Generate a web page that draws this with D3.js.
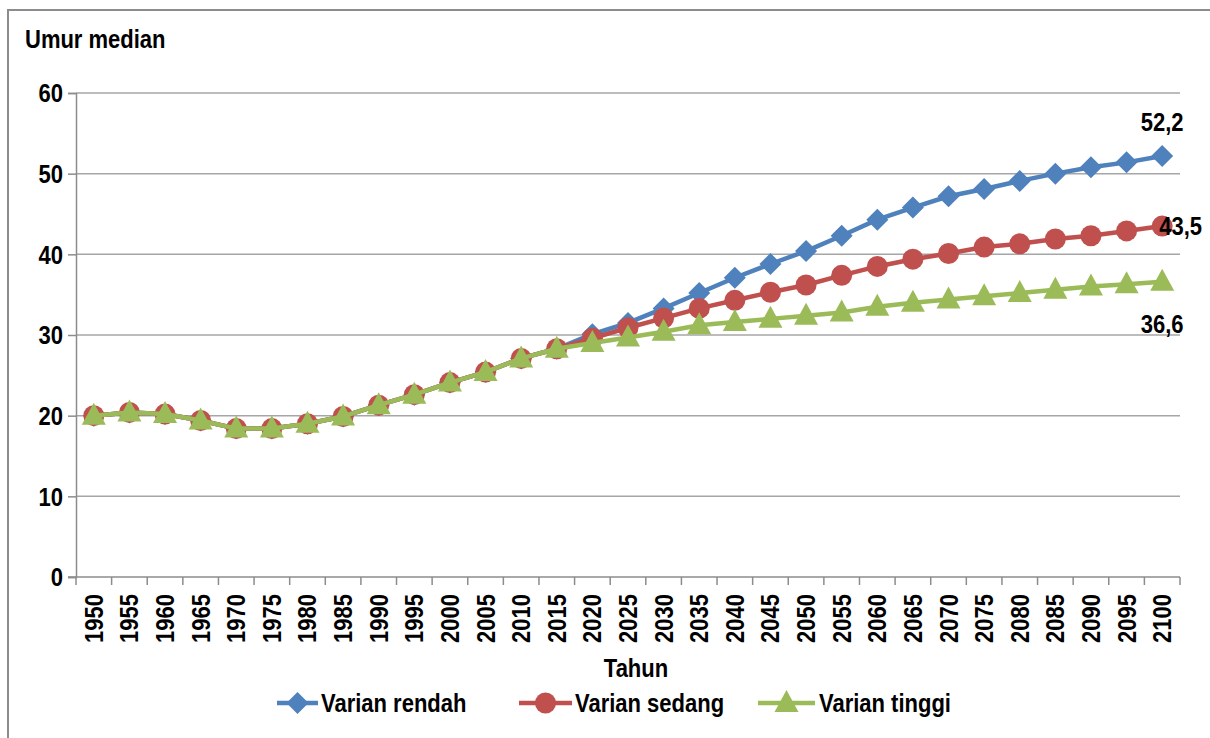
<!DOCTYPE html>
<html>
<head>
<meta charset="utf-8">
<script src="https://cdn.jsdelivr.net/npm/d3@7"></script>
<style>
  html, body { margin: 0; padding: 0; background: #fff; }
  svg { display: block; }
  text { font-family: "Liberation Sans", Arial, sans-serif; font-weight: bold; fill: #000; font-size: 25px; }
</style>
</head>
<body>
<svg id="chart" width="1210" height="738"></svg>
<script>
const years = ["1950","1955","1960","1965","1970","1975","1980","1985","1990","1995","2000","2005","2010","2015","2020","2025","2030","2035","2040","2045","2050","2055","2060","2065","2070","2075","2080","2085","2090","2095","2100"];
const varianRendah = [20.0,20.4,20.2,19.4,18.4,18.4,19.0,19.9,21.3,22.6,24.1,25.4,27.1,28.3,30.1,31.5,33.3,35.2,37.1,38.8,40.4,42.3,44.3,45.8,47.2,48.1,49.1,50.0,50.8,51.4,52.2];
const varianSedang = [20.0,20.4,20.2,19.4,18.4,18.4,19.0,19.9,21.3,22.6,24.1,25.4,27.1,28.3,29.6,30.9,32.1,33.3,34.3,35.3,36.2,37.4,38.5,39.4,40.1,40.9,41.3,41.9,42.3,42.9,43.5];
const varianTinggi = [20.0,20.4,20.2,19.4,18.4,18.4,19.0,19.9,21.3,22.6,24.1,25.4,27.1,28.3,29.0,29.7,30.4,31.2,31.6,32.0,32.4,32.8,33.5,34.0,34.4,34.8,35.2,35.6,36.0,36.3,36.6];
const yTicks = [0,10,20,30,40,50,60];
const seriesNames = ["Varian rendah","Varian sedang","Varian tinggi"];
const endLabels = ["52,2","43,5","36,6"];
const yTitle = "Umur median";
const xTitle = "Tahun";

const SX = 0.88; // horizontal condensing to mimic a narrow bold face
const svg = d3.select("#chart");
const pLeft = 76, pRight = 1180, pTop = 93, pBottom = 577;

function addText(parent, str, px, py, anchor) {
  return parent.append("text")
    .attr("transform", `translate(${px},${py}) scale(${SX},1)`)
    .attr("text-anchor", anchor || "start")
    .text(str);
}

// frame
svg.append("rect").attr("x", 8).attr("y", 10).attr("width", 1220).attr("height", 760)
  .attr("fill", "none").attr("stroke", "#8c8c8c").attr("stroke-width", 2);

const x = d3.scaleBand().domain(years).range([pLeft, pRight]).padding(0);
const y = d3.scaleLinear().domain([0, 60]).range([pBottom, pTop]);
const cx = d => x(d) + x.bandwidth() / 2;

// gridlines
svg.append("g").selectAll("line").data(yTicks.filter(t => t > 0)).join("line")
  .attr("x1", pLeft).attr("x2", pRight).attr("y1", d => y(d)).attr("y2", d => y(d))
  .attr("stroke", "#a6a6a6").attr("stroke-width", 1.5);

// y axis
const yAxis = svg.append("g").attr("transform", `translate(${pLeft},0)`)
  .call(d3.axisLeft(y).tickValues(yTicks).tickSize(8).tickPadding(6).tickFormat(d3.format("d")));
yAxis.select(".domain").attr("stroke", "#8c8c8c").attr("stroke-width", 1.5);
yAxis.selectAll(".tick line").attr("stroke", "#8c8c8c").attr("stroke-width", 1.5);
yAxis.selectAll(".tick text").attr("fill", "#000").attr("font-size", null)
  .attr("x", 0).attr("dy", "0.35em")
  .attr("transform", `translate(-13,0) scale(${SX},1)`);
yAxis.attr("font-size", null).attr("font-family", null);

// x axis
const xAxis = svg.append("g").attr("transform", `translate(0,${pBottom})`)
  .call(d3.axisBottom(x).tickSize(0).tickPadding(0));
xAxis.attr("font-size", null).attr("font-family", null);
xAxis.select(".domain").attr("stroke", "#8c8c8c").attr("stroke-width", 1.5).attr("d", `M${pLeft - 8},0H${pRight}`);
xAxis.selectAll(".tick text")
  .attr("fill", "#000")
  .attr("text-anchor", "end")
  .attr("x", 0).attr("y", 0).attr("dy", "0.36em")
  .attr("transform", `rotate(-90) translate(-17,0) scale(${SX},1)`);
// boundary ticks
const bounds = years.map(d => x(d)).concat([pRight]);
svg.append("g").selectAll("line").data(bounds).join("line")
  .attr("x1", d => d).attr("x2", d => d).attr("y1", pBottom).attr("y2", pBottom + 8)
  .attr("stroke", "#8c8c8c").attr("stroke-width", 1.5);

// titles
addText(svg, yTitle, 25, 48, "start");
addText(svg, xTitle, 636, 677, "middle");

// series
const colors = ["#4F81BD", "#C0504D", "#9BBB59"];
const data = [varianRendah, varianSedang, varianTinggi];
const line = d3.line().x((d, i) => cx(years[i])).y(d => y(d));

function marker(g, type, color) {
  if (type === 0) {
    g.append("path").attr("d", "M0,-11L11,0L0,11L-11,0Z").attr("fill", color);
  } else if (type === 1) {
    g.append("circle").attr("r", 10.5).attr("fill", color);
  } else {
    g.append("path").attr("d", "M0,-13L12,9L-12,9Z").attr("fill", color);
  }
}

data.forEach((vals, s) => {
  const g = svg.append("g");
  g.append("path").datum(vals).attr("d", line).attr("fill", "none")
    .attr("stroke", colors[s]).attr("stroke-width", 4.5).attr("stroke-linejoin", "round");
  vals.forEach((v, i) => {
    const m = g.append("g").attr("transform", `translate(${cx(years[i])},${y(v)})`);
    marker(m, s, colors[s]);
  });
});

// end labels
const lastX = cx(years[years.length - 1]);
addText(svg, endLabels[0], lastX, y(varianRendah[30]) - 25, "middle");
addText(svg, endLabels[1], lastX - 3, y(varianSedang[30]) + 9, "start");
addText(svg, endLabels[2], lastX, y(varianTinggi[30]) + 51, "middle");

// legend
const legendItems = [
  { lx1: 277, lx2: 318, tx: 321 },
  { lx1: 519, lx2: 572, tx: 575 },
  { lx1: 758, lx2: 815, tx: 819 }
];
const ly = 703;
legendItems.forEach((it, s) => {
  const g = svg.append("g");
  g.append("line").attr("x1", it.lx1).attr("x2", it.lx2).attr("y1", ly).attr("y2", ly)
    .attr("stroke", colors[s]).attr("stroke-width", 4.5);
  const m = g.append("g").attr("transform", `translate(${(it.lx1 + it.lx2) / 2},${ly})`);
  marker(m, s, colors[s]);
  addText(g, seriesNames[s], it.tx, ly + 9, "start");
});
</script>
</body>
</html>
